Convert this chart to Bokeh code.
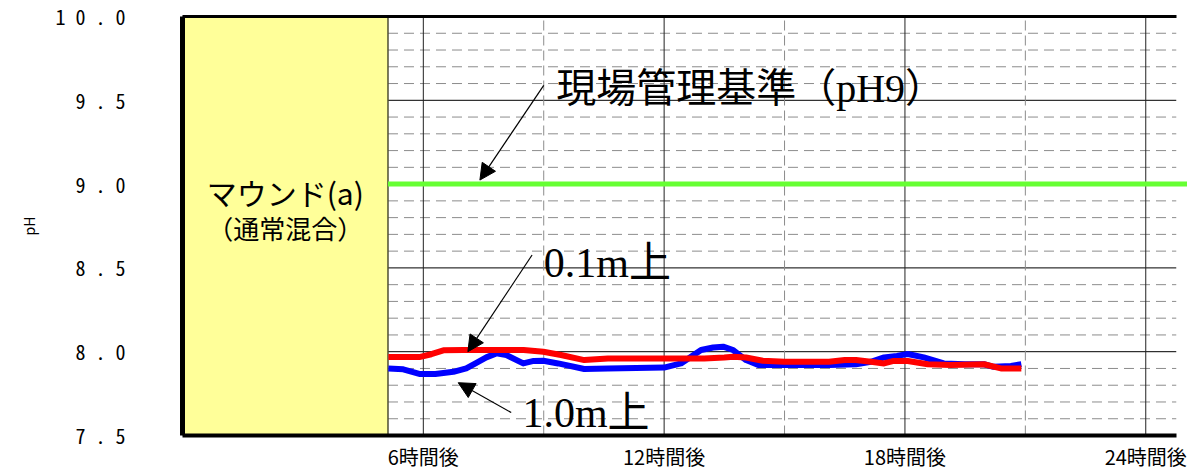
from bokeh.plotting import figure
from bokeh.models import Range1d, LinearAxis, FixedTicker, Arrow, NormalHead
from bokeh.core.properties import value
from bokeh.embed import file_html
from bokeh.resources import INLINE

# ---- data (hours after start, pH) ----
red_hours = [5.13, 5.90, 6.20, 6.50, 7.00, 8.00, 8.50, 8.99, 9.43, 10.01, 10.60, 12.00, 13.00,
             13.50, 13.72, 14.04, 14.46, 15.00, 16.11, 16.50, 16.78, 17.15, 17.48, 17.72, 18.07,
             18.57, 19.14, 19.97, 20.39, 20.90]
red_ph = [7.968, 7.968, 7.985, 8.008, 8.010, 8.010, 8.010, 8.000, 7.980, 7.950, 7.960, 7.960, 7.960,
          7.965, 7.970, 7.965, 7.946, 7.940, 7.940, 7.950, 7.950, 7.940, 7.930, 7.945, 7.945,
          7.925, 7.920, 7.925, 7.900, 7.900]
blue_hours = [5.13, 5.50, 5.90, 6.30, 6.75, 7.07, 7.30, 7.57, 7.82, 8.07, 8.49, 8.75, 8.99, 9.36,
              10.01, 10.60, 12.00, 12.42, 12.92, 13.22, 13.47, 13.72, 14.04, 14.36, 15.00, 16.11,
              16.78, 17.15, 17.48, 17.80, 18.07, 18.47, 18.97, 19.50, 19.97, 20.21, 20.64, 20.90]
blue_ph = [7.900, 7.895, 7.867, 7.867, 7.880, 7.900, 7.930, 7.966, 7.990, 7.980, 7.930, 7.945, 7.946,
           7.930, 7.897, 7.900, 7.905, 7.930, 8.010, 8.025, 8.030, 8.010, 7.950, 7.920, 7.920, 7.920,
           7.925, 7.940, 7.966, 7.975, 7.986, 7.966, 7.930, 7.925, 7.925, 7.910, 7.915, 7.925]
threshold_ph = 9.0

x_ticks = [6, 12, 18, 24]
x_tick_labels = ["6時間後", "12時間後", "18時間後", "24時間後"]
x_minor = [9, 15, 21]
y_ticks = [7.5, 8.0, 8.5, 9.0, 9.5, 10.0]
y_tick_labels = ["7 . 5", "8 . 0", "8 . 5", "9 . 0", "9 . 5", "1 0 . 0"]
y_major_grid = [8.0, 8.5, 9.0, 9.5]
y_minor_grid = [7.6, 7.7, 7.8, 7.9, 8.1, 8.2, 8.3, 8.4, 8.6, 8.7, 8.8, 8.9,
                9.1, 9.2, 9.3, 9.4, 9.6, 9.7, 9.8, 9.9]
mound_end = 5.12     # end of the mound phase (yellow panel)
x_end = 24.76        # right end of chart border
X_MAX = 25.04
Y_MIN, Y_MAX = 7.5, 10.0

p = figure(width=1187, height=473, output_backend="svg", toolbar_location=None,
           x_range=Range1d(0, X_MAX), y_range=Range1d(Y_MIN, Y_MAX),
           min_border_left=182, min_border_right=0, min_border_top=16, min_border_bottom=37,
           x_axis_location=None, y_axis_location=None)
p.outline_line_color = None
p.xgrid.visible = False
p.ygrid.visible = False
p.background_fill_color = "white"
p.border_fill_color = "white"

MONO_FONT = "'Noto Sans Mono CJK JP', 'Noto Sans CJK JP'"

# axes
yax = LinearAxis(ticker=FixedTicker(ticks=y_ticks, minor_ticks=[]))
yax.major_label_overrides = dict(zip(y_ticks, y_tick_labels))
yax.major_tick_line_color = None
yax.minor_tick_line_color = None
yax.axis_line_width = 5
yax.axis_line_color = "black"
yax.major_label_standoff = 51
yax.major_label_text_font = MONO_FONT
yax.major_label_text_font_size = "20px"
yax.major_label_text_color = "black"
yax.axis_label = "pH"
yax.axis_label_text_font = "Noto Sans CJK JP"
yax.axis_label_text_font_style = "normal"
yax.axis_label_text_font_size = "14px"
yax.axis_label_text_color = "black"
yax.axis_label_standoff = 14
p.add_layout(yax, "left")

xax = LinearAxis(ticker=FixedTicker(ticks=x_ticks, minor_ticks=[]), bounds=(0, x_end))
xax.major_label_overrides = dict(zip(x_ticks, x_tick_labels))
xax.major_tick_line_color = None
xax.minor_tick_line_color = None
xax.major_label_text_font = "Noto Sans CJK JP"
xax.major_label_text_font_size = "20px"
xax.major_label_text_color = "black"
xax.major_label_standoff = 0
xax.axis_line_width = 4
xax.axis_line_color = "black"
p.add_layout(xax, "below")

tax = LinearAxis(ticker=FixedTicker(ticks=[], minor_ticks=[]), bounds=(0, x_end))
tax.major_tick_line_color = None
tax.minor_tick_line_color = None
tax.major_label_standoff = 0
tax.axis_line_width = 3
tax.axis_line_color = "black"
p.add_layout(tax, "above")

# gridlines
p.segment(x0=[mound_end] * len(y_minor_grid), x1=[x_end] * len(y_minor_grid),
          y0=y_minor_grid, y1=y_minor_grid, line_color="#8c8c8c", line_width=1, line_dash="10 6")
p.segment(x0=[mound_end] * len(y_major_grid), x1=[x_end] * len(y_major_grid),
          y0=y_major_grid, y1=y_major_grid, line_color="black", line_width=1)
p.segment(x0=x_minor, x1=x_minor, y0=[Y_MIN] * len(x_minor), y1=[Y_MAX] * len(x_minor),
          line_color="#8c8c8c", line_width=1, line_dash="10 5")
p.segment(x0=x_ticks, x1=x_ticks, y0=[Y_MIN] * len(x_ticks), y1=[Y_MAX] * len(x_ticks),
          line_color="#222222", line_width=1)

# mound panel
p.quad(left=[0], right=[mound_end], bottom=[Y_MIN], top=[Y_MAX],
       fill_color="#FFFF99", line_color="#4d4d33", line_width=1.5)
p.text(x=[mound_end / 2], y=[8.955], text=["マウンド(a)"], text_align="center",
       text_baseline="middle", text_font=value("Noto Sans CJK JP"), text_font_size="30px",
       text_color="black")
p.text(x=[mound_end / 2], y=[8.74], text=["（通常混合）"], text_align="center",
       text_baseline="middle", text_font=value("Noto Sans CJK JP"), text_font_size="26px",
       text_color="black")

# threshold line
p.line(x=[mound_end, X_MAX], y=[threshold_ph, threshold_ph], line_color="#66FF33", line_width=5)

# series
p.line(x=blue_hours, y=blue_ph, line_color="#0000FF", line_width=6, line_join="round")
p.line(x=red_hours, y=red_ph, line_color="#FF0000", line_width=6, line_join="round")

# annotations
ANN_FONT = value("'Liberation Serif', 'Noto Sans CJK JP'")
p.text(x=[9.31], y=[9.572], text=["現場管理基準（pH9）"], text_baseline="middle",
       text_font=ANN_FONT, text_font_size="40px", text_color="black")
p.text(x=[9.00], y=[8.532], text=["0.1m上"], text_baseline="middle",
       text_font=ANN_FONT, text_font_size="42px", text_color="black")
p.text(x=[8.47], y=[7.634], text=["1.0m上"], text_baseline="middle",
       text_font=ANN_FONT, text_font_size="42px", text_color="black")

for (xs, ys, xe, ye) in [(9.0, 9.589, 7.41, 9.024), (8.71, 8.577, 7.11, 8.0), (8.19, 7.637, 6.87, 7.815)]:
    p.add_layout(Arrow(end=NormalHead(size=16, fill_color="black", line_color="black"),
                       x_start=xs, y_start=ys, x_end=xe, y_end=ye,
                       line_color="black", line_width=1.2))

open("out.html", "w").write(file_html(p, INLINE))
